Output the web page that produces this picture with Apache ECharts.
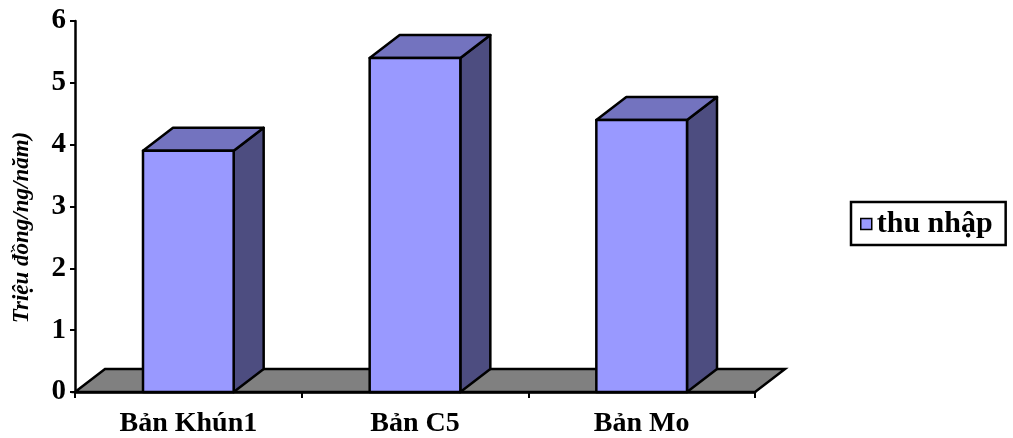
<!DOCTYPE html>
<html>
<head>
<meta charset="utf-8">
<script src="https://cdn.jsdelivr.net/npm/echarts@6/dist/echarts.min.js"></script>
<style>
  html, body { margin: 0; padding: 0; background: #fff; }
  #chart { width: 1013px; height: 438px; }
</style>
</head>
<body>
<div id="chart"></div>
<script>
// Income per person per year, by village
const categories = ['Bản Khún1', 'Bản C5', 'Bản Mo'];
const incomeValues = [3.9, 5.4, 4.4];
const seriesName = 'thu nhập';
const yAxisTitle = 'Triệu đồng/ng/năm)';
const yTicks = { min: 0, max: 6, interval: 1 };

const FONT = '"Liberation Serif", "Times New Roman", serif';
const DEPTH_X = 30;   // 3D depth offset, pixels to the right
const DEPTH_Y = -23;  // 3D depth offset, pixels upward
const COLORS = {
  front: '#9999FF',
  top: '#7373BF',
  side: '#4D4D80',
  floor: '#808080',
  edge: '#000000'
};

const chart = echarts.init(document.getElementById('chart'));

// Gray floor plane under the columns
function renderFloor(params, api) {
  const cs = params.coordSys;
  const y0 = api.coord([0, 0])[1];
  const x1 = cs.x, x2 = cs.x + cs.width;
  return {
    type: 'polygon',
    shape: { points: [[x1, y0], [x2, y0], [x2 + DEPTH_X, y0 + DEPTH_Y], [x1 + DEPTH_X, y0 + DEPTH_Y]] },
    style: { fill: COLORS.floor, stroke: COLORS.edge, lineWidth: 2.5 }
  };
}

// One 3D column: front face, top face and right side
function renderColumn(params, api) {
  const idx = api.value(0);
  const val = api.value(1);
  const top = api.coord([idx, val]);
  const base = api.coord([idx, 0]);
  const band = api.size([1, 0])[0];
  const w = band * 0.4;
  const L = top[0] - w / 2, R = top[0] + w / 2;
  const yT = top[1], y0 = base[1];
  const edge = { stroke: COLORS.edge, lineWidth: 2.5, lineJoin: 'round' };
  return {
    type: 'group',
    children: [
      {
        type: 'polygon',
        shape: { points: [[R, yT], [R + DEPTH_X, yT + DEPTH_Y], [R + DEPTH_X, y0 + DEPTH_Y], [R, y0]] },
        style: Object.assign({ fill: COLORS.side }, edge)
      },
      {
        type: 'polygon',
        shape: { points: [[L, yT], [R, yT], [R + DEPTH_X, yT + DEPTH_Y], [L + DEPTH_X, yT + DEPTH_Y]] },
        style: Object.assign({ fill: COLORS.top }, edge)
      },
      {
        type: 'rect',
        shape: { x: L, y: yT, width: w, height: y0 - yT },
        style: Object.assign({ fill: COLORS.front }, edge)
      }
    ]
  };
}

chart.setOption({
  animation: false,
  backgroundColor: '#ffffff',
  grid: { left: 75, right: 258, top: 21, bottom: 45 },
  legend: {
    left: 851,
    top: 202,
    orient: 'vertical',
    padding: [7, 13, 6, 9],
    borderColor: '#000',
    borderWidth: 2.5,
    itemWidth: 11,
    itemHeight: 11,
    itemGap: 6,
    textStyle: { fontFamily: FONT, fontWeight: 'bold', fontSize: 30, color: '#000' },
    data: [{ name: seriesName, icon: 'rect', itemStyle: { color: COLORS.front, borderColor: '#000', borderWidth: 1.5 } }]
  },
  xAxis: {
    type: 'category',
    data: categories,
    boundaryGap: true,
    axisLine: { lineStyle: { color: '#000', width: 2.5 } },
    axisTick: { show: true, length: 6, lineStyle: { color: '#000', width: 2 } },
    axisLabel: { fontFamily: FONT, fontWeight: 'bold', fontSize: 28, color: '#000', margin: 18 },
    splitLine: { show: false }
  },
  yAxis: {
    type: 'value',
    min: yTicks.min,
    max: yTicks.max,
    interval: yTicks.interval,
    name: yAxisTitle,
    nameLocation: 'middle',
    nameRotate: 90,
    nameGap: 41,
    nameTextStyle: {
      fontFamily: FONT, fontWeight: 'bold', fontStyle: 'italic', fontSize: 23, color: '#000',
      padding: [0, 42, 0, 0]
    },
    axisLine: { show: true, lineStyle: { color: '#000', width: 2.5 } },
    axisTick: { show: true, length: 5, lineStyle: { color: '#000', width: 2 } },
    axisLabel: { fontFamily: FONT, fontWeight: 'bold', fontSize: 29, color: '#000', margin: 9 },
    splitLine: { show: false }
  },
  series: [
    {
      name: 'floor',
      type: 'custom',
      renderItem: renderFloor,
      data: [[0, 0]],
      z: 1,
      silent: true
    },
    {
      name: seriesName,
      type: 'custom',
      renderItem: renderColumn,
      itemStyle: { color: COLORS.front },
      encode: { x: 0, y: 1 },
      data: incomeValues.map((v, i) => [i, v]),
      z: 2
    }
  ]
});
</script>
</body>
</html>
